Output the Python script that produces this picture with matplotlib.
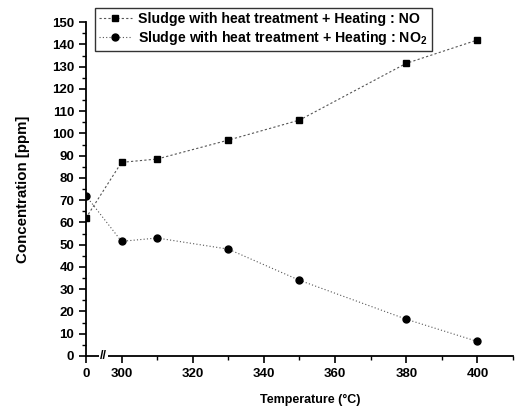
import matplotlib.pyplot as plt
from matplotlib.ticker import MultipleLocator

plt.rcParams['font.family'] = ['Liberation Sans', 'DejaVu Sans']
plt.rcParams['font.weight'] = 'bold'
plt.rcParams['axes.labelweight'] = 'bold'
plt.rcParams['mathtext.default'] = 'regular'

# data
temperature = [0, 300, 310, 330, 350, 380, 400]
no_ppm = [62, 87, 88.5, 97, 106, 131.5, 142]
no2_ppm = [72, 51.5, 53, 48, 34, 16.5, 6.5]

x_ticks = [0, 300, 320, 340, 360, 380, 400]
BREAK_POS = 290  # where the 0 point sits on the broken axis


def to_axis(t):
    return BREAK_POS if t == 0 else t


xs = [to_axis(t) for t in temperature]

fig = plt.figure(figsize=(5.24, 4.11), dpi=100)
ax = fig.add_axes([0.164, 0.134, 0.815, 0.812])

ax.plot(xs, no_ppm, linestyle=(0, (2, 2)), color='#555555', linewidth=0.8,
        marker='s', markersize=4.5, markerfacecolor='black', markeredgecolor='black',
        label='Sludge with heat treatment + Heating : NO')
ax.plot(xs, no2_ppm, linestyle=(0, (1, 2)), color='#555555', linewidth=0.8,
        marker='o', markersize=5, markerfacecolor='black', markeredgecolor='black',
        label='Sludge with heat treatment + Heating : NO$_2$')

ax.set_xlim(BREAK_POS, 410)
ax.set_ylim(0, 150)
ax.set_xticks([to_axis(t) for t in x_ticks])
ax.set_xticklabels([str(t) for t in x_ticks])
ax.xaxis.set_minor_locator(MultipleLocator(10))
ax.yaxis.set_major_locator(MultipleLocator(10))
ax.yaxis.set_minor_locator(MultipleLocator(5))

for side in ['top', 'right']:
    ax.spines[side].set_visible(False)
for side in ['left', 'bottom']:
    ax.spines[side].set_linewidth(1.3)

ax.tick_params(axis='both', which='major', direction='out', length=5, width=1.2,
               labelsize=9.5)
ax.tick_params(axis='both', which='minor', direction='out', length=3, width=1.0)

# axis break mark
ax.text(295, 0, '//', ha='center', va='center', fontsize=9, clip_on=False,
        bbox=dict(facecolor='white', edgecolor='none', pad=0.5))

ax.set_xlabel('Temperature (\u00b0C)', fontsize=9)
ax.xaxis.set_label_coords(0.525, -0.115)
ax.set_ylabel('Concentration [ppm]', fontsize=10.8, labelpad=16)

leg = ax.legend(loc='upper left', bbox_to_anchor=(0.181, 0.981),
                bbox_transform=fig.transFigure, borderaxespad=0,
                fontsize=10.2, frameon=True,
                fancybox=False, edgecolor='black', borderpad=0.3,
                labelspacing=0.2, handlelength=2.3, handletextpad=0.45)
leg.get_frame().set_linewidth(1.0)

fig.savefig('out.png', dpi=100)
